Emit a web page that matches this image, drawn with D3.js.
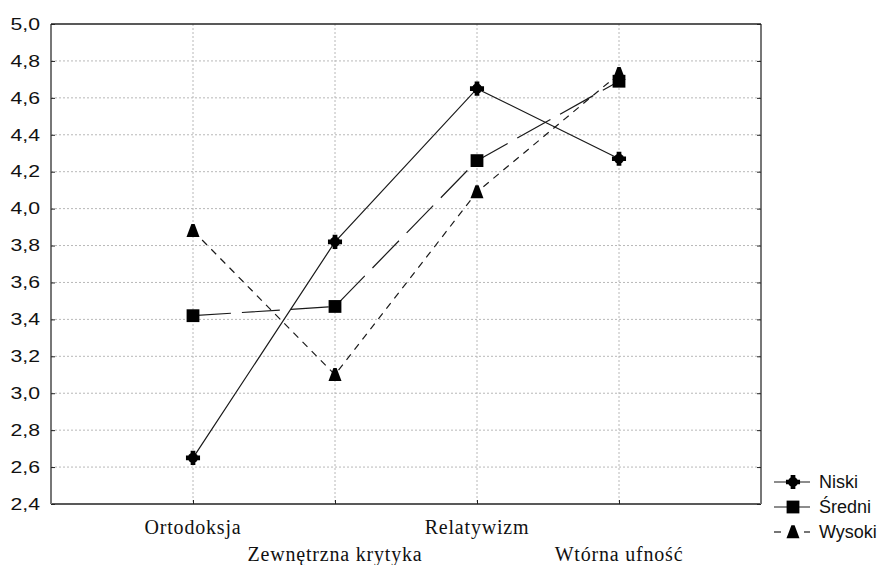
<!DOCTYPE html>
<html>
<head>
<meta charset="utf-8">
<script src="https://cdn.jsdelivr.net/npm/d3@7"></script>
<style>
  body { margin: 0; background: #fff; }
  svg { display: block; }
</style>
</head>
<body>
<svg></svg>
<script>
// Data
const categories = ["Ortodoksja", "Zewnętrzna krytyka", "Relatywizm", "Wtórna ufność"];
const seriesNames = ["Niski", "Średni", "Wysoki"];
const niski = [2.65, 3.82, 4.65, 4.27];
const sredni = [3.42, 3.47, 4.26, 4.69];
const wysoki = [3.88, 3.10, 4.09, 4.73];
const yTicks = [2.4, 2.6, 2.8, 3.0, 3.2, 3.4, 3.6, 3.8, 4.0, 4.2, 4.4, 4.6, 4.8, 5.0];

const series = [
    { name: seriesNames[0], values: niski, dash: null, marker: "plus" },
    { name: seriesNames[1], values: sredni, dash: "38,11", marker: "square" },
    { name: seriesNames[2], values: wysoki, dash: "7,6", marker: "triangle" }
];

const width = 883, height = 565;
const plot = { left: 51, right: 761, top: 24, bottom: 504 };

const svg = d3.select("svg").attr("width", width).attr("height", height);

const x = d3.scalePoint().domain(categories).range([plot.left, plot.right]).padding(1);
const y = d3.scaleLinear().domain([2.4, 5.0]).range([plot.bottom, plot.top]);

// grid
const grid = svg.append("g");
grid.selectAll(".hg")
    .data(yTicks.slice(1, -1))
    .enter().append("line")
    .attr("x1", plot.left).attr("x2", plot.right)
    .attr("y1", d => y(d)).attr("y2", d => y(d))
    .attr("stroke", "#b8b8b8").attr("stroke-width", 1)
    .attr("stroke-dasharray", "2,2");
grid.selectAll(".vg")
    .data(categories)
    .enter().append("line")
    .attr("x1", d => x(d)).attr("x2", d => x(d))
    .attr("y1", plot.top).attr("y2", plot.bottom)
    .attr("stroke", "#b8b8b8").attr("stroke-width", 1)
    .attr("stroke-dasharray", "2,2");

// frame
svg.append("line").attr("x1", plot.left).attr("x2", plot.right)
    .attr("y1", plot.top).attr("y2", plot.top).attr("stroke", "#222").attr("stroke-width", 1.5);
svg.append("line").attr("x1", plot.left).attr("x2", plot.right)
    .attr("y1", plot.bottom).attr("y2", plot.bottom).attr("stroke", "#222").attr("stroke-width", 1.5);
svg.append("line").attr("x1", plot.left).attr("x2", plot.left)
    .attr("y1", plot.top).attr("y2", plot.bottom).attr("stroke", "#777").attr("stroke-width", 2);
svg.append("line").attr("x1", plot.right).attr("x2", plot.right)
    .attr("y1", plot.top).attr("y2", plot.bottom).attr("stroke", "#777").attr("stroke-width", 2);

// axes
const yAxis = svg.append("g")
    .attr("transform", `translate(${plot.left},0)`)
    .call(d3.axisLeft(y).tickValues(yTicks).tickSizeInner(-4).tickSizeOuter(0).tickPadding(11)
        .tickFormat(d => d3.format(".1f")(d).replace(".", ",")));
yAxis.select(".domain").remove();
yAxis.selectAll(".tick line").attr("stroke", "#222");
yAxis.selectAll("text")
    .attr("font-family", "Liberation Sans, Arial, sans-serif")
    .attr("font-size", 16.5)
    .attr("fill", "#111")
    .attr("textLength", 29.5)
    .attr("lengthAdjust", "spacingAndGlyphs");

const yRight = svg.append("g")
    .attr("transform", `translate(${plot.right},0)`)
    .call(d3.axisRight(y).tickValues(yTicks).tickSizeInner(-4).tickSizeOuter(0).tickFormat(""));
yRight.select(".domain").remove();
yRight.selectAll(".tick line").attr("stroke", "#222");

const xAxis = svg.append("g")
    .attr("transform", `translate(0,${plot.bottom})`)
    .call(d3.axisBottom(x).tickSizeInner(-4).tickSizeOuter(0).tickFormat(""));
xAxis.select(".domain").remove();
xAxis.selectAll(".tick line").attr("stroke", "#222");

svg.append("g").selectAll("text")
    .data(categories)
    .enter().append("text")
    .attr("x", d => x(d))
    .attr("y", (d, i) => i % 2 === 0 ? 534 : 561)
    .attr("text-anchor", "middle")
    .attr("font-family", "Liberation Serif, Times New Roman, serif")
    .attr("font-size", 20)
    .attr("letter-spacing", 0.8)
    .attr("fill", "#111")
    .text(d => d);

// markers
function markerPath(type) {
    if (type === "square") return "M-6.4,-6.4H6.4V6.4H-6.4Z";
    if (type === "triangle") return "M-1.6,-6.8L1.6,-6.8L6.5,6.2L-6.5,6.2Z";
    return d3.symbol().type(d3.symbolCross).size(110)();
}

const line = d3.line()
    .x((d, i) => x(categories[i]))
    .y(d => y(d));

svg.append("g").selectAll("path")
    .data(series)
    .enter().append("path")
    .attr("d", d => line(d.values))
    .attr("fill", "none")
    .attr("stroke", "#1a1a1a")
    .attr("stroke-width", 1.2)
    .attr("stroke-dasharray", d => d.dash);

series.forEach(s => {
    const g = svg.append("g");
    g.selectAll("path")
        .data(s.values)
        .enter().append("path")
        .attr("transform", (d, i) => `translate(${x(categories[i])},${y(d)})`)
        .attr("d", markerPath(s.marker))
        .attr("fill", "#000");
    if (s.marker === "plus") {
        g.selectAll("circle")
            .data(s.values)
            .enter().append("circle")
            .attr("cx", (d, i) => x(categories[i]))
            .attr("cy", d => y(d))
            .attr("r", 5)
            .attr("fill", "#000");
    }
});

// legend
const legend = svg.append("g");
const legendY = [482, 507, 532];
series.forEach((s, i) => {
    const gy = legendY[i];
    const lg = legend.append("g").attr("transform", `translate(0,${gy})`);
    if (s.marker === "triangle") {
        lg.append("line").attr("x1", 774).attr("x2", 781).attr("y1", 0).attr("y2", 0)
            .attr("stroke", "#1a1a1a").attr("stroke-width", 1.2);
        lg.append("line").attr("x1", 804).attr("x2", 810).attr("y1", 0).attr("y2", 0)
            .attr("stroke", "#1a1a1a").attr("stroke-width", 1.2);
    } else {
        lg.append("line").attr("x1", 774).attr("x2", 810).attr("y1", 0).attr("y2", 0)
            .attr("stroke", "#1a1a1a").attr("stroke-width", 1.2);
    }
    lg.append("path").attr("transform", "translate(793,0)")
        .attr("d", markerPath(s.marker)).attr("fill", "#000");
    if (s.marker === "plus") lg.append("circle").attr("cx", 793).attr("r", 5).attr("fill", "#000");
    lg.append("text")
        .attr("x", 819).attr("y", 0).attr("dy", "0.36em")
        .attr("font-family", "Liberation Sans, Arial, sans-serif")
        .attr("font-size", 18)
        .attr("fill", "#111")
        .text(s.name);
});
</script>
</body>
</html>
